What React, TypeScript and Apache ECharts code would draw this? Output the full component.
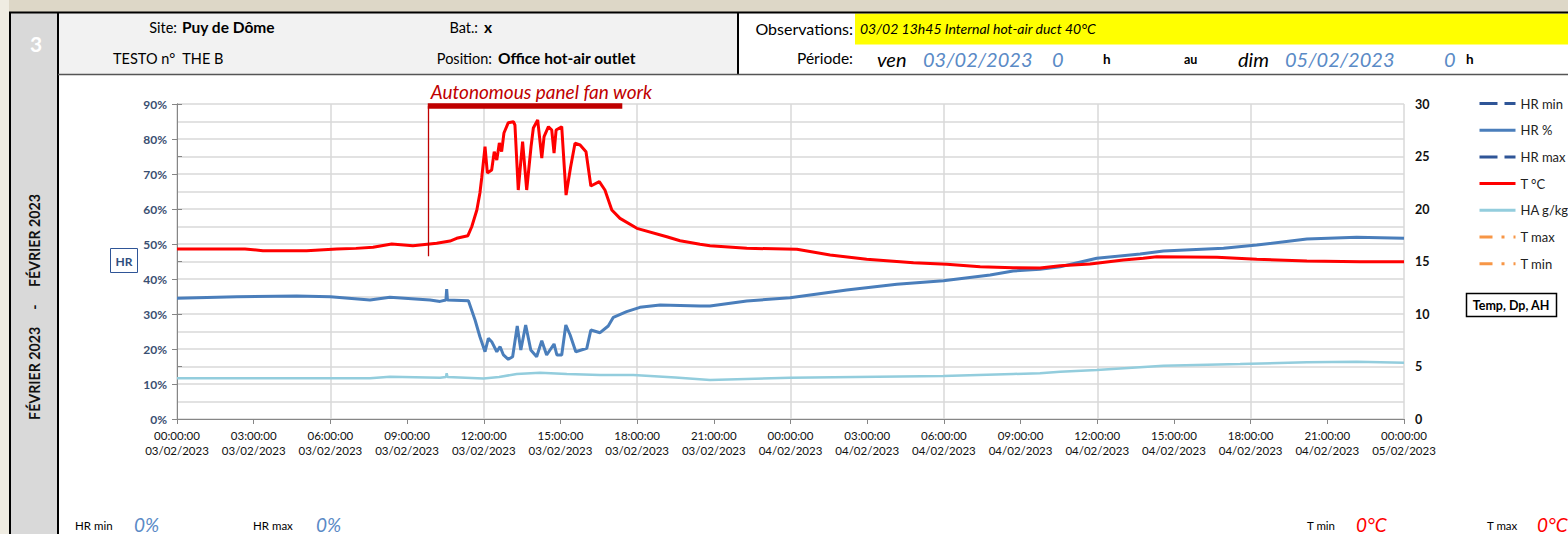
import React, { useEffect, useRef } from 'react';
import * as echarts from 'echarts';

// ---- data (hours since 03/02/2023 00:00) ----
const tHours = [0, 1.3, 2.66, 3.36, 5.07, 6.25, 7.0, 7.67, 8.4, 9.23, 10.16, 10.68, 10.94, 11.38, 11.53, 11.73, 11.85, 11.92, 12.05, 12.14, 12.31, 12.41, 12.51, 12.61, 12.7, 12.79, 12.96, 13.16, 13.22, 13.35, 13.52, 13.68, 13.85, 13.94, 14.11, 14.27, 14.36, 14.53, 14.66, 14.75, 14.83, 15.05, 15.22, 15.4, 15.57, 15.77, 16.0, 16.19, 16.52, 16.74, 17.01, 17.33, 17.99, 19.16, 19.68, 20.46, 20.85, 22.29, 24.25, 25.55, 26.98, 28.81, 30.11, 31.42, 32.71, 33.76, 34.55, 35.72, 37.02, 37.8, 38.33, 40.68, 42.24, 44.2, 46.28, 48];
const tValues = [16.19, 16.2, 16.19, 16.03, 16.03, 16.19, 16.25, 16.35, 16.67, 16.5, 16.73, 16.95, 17.21, 17.46, 18.31, 19.9, 21.52, 22.95, 25.93, 23.43, 23.71, 25.46, 24.67, 26.29, 25.46, 27.24, 28.22, 28.31, 28.0, 21.81, 26.41, 21.81, 25.93, 27.71, 28.48, 24.86, 26.89, 27.84, 27.52, 25.33, 27.52, 27.84, 21.33, 24.03, 26.26, 26.1, 25.46, 22.19, 22.6, 21.81, 19.9, 19.11, 18.16, 17.36, 16.98, 16.64, 16.5, 16.26, 16.16, 15.62, 15.21, 14.89, 14.73, 14.5, 14.41, 14.38, 14.6, 14.76, 15.14, 15.3, 15.46, 15.4, 15.21, 15.05, 14.98, 14.98];

const hrHours = [0, 2.34, 4.68, 6.0, 7.55, 8.33, 9.9, 10.29, 10.52, 10.55, 10.58, 11.4, 11.66, 11.85, 12.05, 12.18, 12.31, 12.51, 12.64, 12.77, 12.96, 13.13, 13.31, 13.45, 13.64, 13.84, 14.07, 14.27, 14.46, 14.75, 14.86, 15.05, 15.21, 15.38, 15.6, 16.03, 16.19, 16.55, 16.87, 17.07, 17.59, 18.11, 18.9, 20.46, 20.85, 22.29, 23.98, 26.2, 28.16, 29.98, 31.81, 32.71, 33.76, 34.55, 35.98, 37.68, 38.59, 40.94, 42.24, 44.2, 46.15, 48];
const hrValues = [34.49, 34.94, 35.14, 34.9, 34.0, 34.77, 34.0, 33.6, 34.0, 37.14, 34.0, 33.8, 28.29, 23.51, 19.23, 23.06, 22.09, 19.23, 20.66, 18.29, 17.06, 17.8, 26.57, 19.71, 26.86, 19.71, 17.8, 22.37, 18.29, 21.43, 18.29, 18.29, 26.86, 24.0, 19.23, 20.2, 25.43, 24.66, 26.57, 29.06, 30.66, 31.91, 32.57, 32.29, 32.29, 33.71, 34.66, 36.86, 38.49, 39.51, 41.14, 42.29, 42.77, 43.51, 45.91, 47.14, 48.0, 48.77, 49.71, 51.43, 51.91, 51.63];

const haHours = [0, 7.55, 8.33, 10.29, 10.52, 10.55, 10.58, 11.99, 12.6, 13.29, 14.2, 15.25, 16.55, 17.85, 19.5, 20.85, 23.98, 29.98, 32.71, 33.76, 34.55, 35.98, 38.59, 41.59, 44.2, 46.15, 48];
const haValues = [3.87, 3.87, 4.03, 3.93, 4.0, 4.35, 4.0, 3.85, 4.0, 4.29, 4.4, 4.29, 4.19, 4.19, 3.95, 3.71, 3.93, 4.1, 4.29, 4.35, 4.5, 4.67, 5.08, 5.24, 5.4, 5.46, 5.36];

const legendNames = ['HR min', 'HR %', 'HR max', 'T °C', 'HA g/kg', 'T max', 'T min'];

// annotation (hours / °C)
const fanStart = 9.81;
const fanEnd = 17.42;
const fanBarLevel = 29.8;
const fanLineBottom = 15.5;
const fanLabel = 'Autonomous panel fan work';

const FONT = 'Lato';

const pad = (n: number) => (n < 10 ? '0' + n : '' + n);
const zip = (xs: number[], ys: number[]) => xs.map((x, i) => [x, ys[i]]);

export default function App() {
  const ref = useRef<HTMLDivElement>(null);
  useEffect(() => {
    if (!ref.current) return;
    const chart = echarts.init(ref.current, undefined, { renderer: 'svg' });

    const txt = (x: number, y: number, text: string, o: any = {}) => ({
      type: 'text',
      x,
      y,
      style: {
        text,
        fill: o.fill || '#000',
        font: `${o.italic ? 'italic ' : ''}${o.bold ? 'bold ' : ''}${o.size || 13}px ${FONT}`,
        textAlign: o.align || 'left',
        textVerticalAlign: 'middle',
      },
      rotation: o.rotation || 0,
    });

    const graphic: any[] = [
      { type: 'rect', shape: { x: 0, y: 0, width: 1568, height: 12 }, style: { fill: '#ddd7c7' } },
      { type: 'rect', shape: { x: 0, y: 0, width: 9, height: 534 }, style: { fill: '#efece2' } },
      { type: 'rect', shape: { x: 11, y: 13, width: 47, height: 521 }, style: { fill: '#d9d9d9' } },
      { type: 'rect', shape: { x: 59, y: 13, width: 679, height: 61 }, style: { fill: '#f2f2f2' } },
      { type: 'rect', shape: { x: 855, y: 13.5, width: 713, height: 31 }, style: { fill: '#ffff00' } },
      { type: 'line', shape: { x1: 9, y1: 12.5, x2: 1568, y2: 12.5 }, style: { stroke: '#000', lineWidth: 2 } },
      { type: 'line', shape: { x1: 10, y1: 12, x2: 10, y2: 534 }, style: { stroke: '#000', lineWidth: 2 } },
      { type: 'line', shape: { x1: 58, y1: 12, x2: 58, y2: 534 }, style: { stroke: '#000', lineWidth: 2 } },
      { type: 'line', shape: { x1: 738, y1: 12, x2: 738, y2: 74 }, style: { stroke: '#000', lineWidth: 2 } },
      { type: 'line', shape: { x1: 58, y1: 74.5, x2: 1568, y2: 74.5 }, style: { stroke: '#555', lineWidth: 1.5 } },
      txt(36, 43, '3', { bold: true, size: 21, fill: '#fff', align: 'center' }),
      txt(34, 307, 'FÉVRIER 2023     -     FÉVRIER 2023', { bold: true, size: 14.2, align: 'center', rotation: Math.PI / 2, fill: '#111' }),
      txt(177, 27, 'Site:', { size: 14.5, align: 'right' }),
      txt(182, 27, 'Puy de Dôme', { bold: true, size: 15.5 }),
      txt(478, 27, 'Bat.:', { size: 14.5, align: 'right' }),
      txt(484, 27, 'x', { bold: true, size: 15.5 }),
      txt(113, 58, 'TESTO n°  THE B', { size: 14.5 }),
      txt(492, 58, 'Position:', { size: 14.5, align: 'right' }),
      txt(498, 58, 'Office hot-air outlet', { bold: true, size: 15.5 }),
      txt(853, 28, 'Observations:', { size: 16, align: 'right' }),
      txt(860, 28, '03/02 13h45 Internal hot-air duct 40°C', { italic: true, size: 14 }),
      txt(853, 58, 'Période:', { size: 15.5, align: 'right' }),
      txt(877, 59, 'ven', { italic: true, size: 20 }),
      txt(923, 59, '03/02/2023', { italic: true, size: 20, fill: '#5a8ac6' }),
      txt(1052, 59, '0', { italic: true, size: 20, fill: '#5a8ac6' }),
      txt(1103, 59, 'h', { bold: true, size: 13.5 }),
      txt(1184, 59, 'au', { bold: true, size: 12.5 }),
      txt(1238, 59, 'dim', { italic: true, size: 20 }),
      txt(1285, 59, '05/02/2023', { italic: true, size: 20, fill: '#5a8ac6' }),
      txt(1444, 59, '0', { italic: true, size: 20, fill: '#5a8ac6' }),
      txt(1466, 59, 'h', { bold: true, size: 13.5 }),
      { type: 'rect', shape: { x: 110.5, y: 248.5, width: 27, height: 24 }, style: { fill: '#fff', stroke: '#2f5597', lineWidth: 1 } },
      txt(124, 261, 'HR', { bold: true, size: 12, align: 'center', fill: '#2f4e7e' }),
      { type: 'rect', shape: { x: 1466.5, y: 293.5, width: 90, height: 23 }, style: { fill: '#fff', stroke: '#000', lineWidth: 1.5 } },
      txt(1511, 305.5, 'Temp, Dp, AH', { bold: true, size: 12.5, align: 'center' }),
      txt(75, 525, 'HR min', { size: 11.5 }),
      txt(134, 524, '0%', { italic: true, size: 19, fill: '#5a8ac6' }),
      txt(253, 525, 'HR max', { size: 11.5 }),
      txt(316, 524, '0%', { italic: true, size: 19, fill: '#5a8ac6' }),
      txt(1307, 525, 'T min', { size: 11.5 }),
      txt(1356, 524, '0°C', { italic: true, size: 19, fill: '#ff0000' }),
      txt(1487, 525, 'T max', { size: 11.5 }),
      txt(1537, 524, '0°C', { italic: true, size: 19, fill: '#ff0000' }),
    ];

    const emptyLine = (name: string, color: string, type: any) => ({
      name,
      type: 'line',
      data: [],
      symbol: 'none',
      lineStyle: { color, width: 2.5, type },
      itemStyle: { color },
    });

    chart.setOption({
      animation: false,
      backgroundColor: '#ffffff',
      textStyle: { fontFamily: FONT },
      graphic,
      legend: {
        data: legendNames,
        orient: 'vertical',
        left: 1478,
        top: 97,
        padding: 0,
        itemWidth: 36,
        itemHeight: 12,
        itemGap: 13.7,
        selectedMode: false,
        itemStyle: { opacity: 0 },
        lineStyle: { width: 3 },
        textStyle: { fontFamily: FONT, fontSize: 13, color: '#222' },
      },
      grid: { left: 177, right: 164, top: 104, bottom: 115, containLabel: false },
      xAxis: [
        {
          type: 'value',
          min: 0,
          max: 48,
          interval: 3,
          axisLine: { show: true, lineStyle: { color: '#868686', width: 1 } },
          axisTick: { show: true, length: 5, lineStyle: { color: '#868686' } },
          splitLine: { show: false },
          axisLabel: {
            margin: 9,
            fontFamily: FONT,
            fontSize: 11.5,
            lineHeight: 15,
            color: '#111',
            showMinLabel: true,
            showMaxLabel: true,
            hideOverlap: false,
            formatter: (v: number) => `${pad(v % 24)}:00:00\n${pad(3 + Math.floor(v / 24))}/02/2023`,
          },
        },
        {
          type: 'value',
          min: 0,
          max: 48,
          interval: 6,
          position: 'bottom',
          axisLine: { show: false },
          axisTick: { show: false },
          axisLabel: { show: false },
          splitLine: { show: true, lineStyle: { color: '#d9d9d9', width: 1.5 } },
        },
      ],
      yAxis: [
        {
          type: 'value',
          min: 0,
          max: 90,
          interval: 10,
          axisLine: { show: true, lineStyle: { color: '#868686', width: 1 } },
          axisTick: { show: true, length: 5, lineStyle: { color: '#868686' } },
          minorTick: { show: false, splitNumber: 2 },
          splitLine: { show: true, lineStyle: { color: '#d9d9d9', width: 1.5 } },
          minorSplitLine: { show: true, lineStyle: { color: '#d9d9d9', width: 1.5 } },
          axisLabel: {
            margin: 10,
            fontFamily: FONT,
            fontSize: 12,
            fontWeight: 'bold',
            color: '#3a4f72',
            formatter: (v: number) => `${v}%`,
          },
        },
        {
          type: 'value',
          min: 0,
          max: 30,
          interval: 5,
          position: 'right',
          axisLine: { show: true, lineStyle: { color: '#868686', width: 1 } },
          axisTick: { show: true, length: 5, lineStyle: { color: '#868686' } },
          splitLine: { show: false },
          axisLabel: {
            margin: 11,
            fontFamily: FONT,
            fontSize: 12.5,
            fontWeight: 'bold',
            color: '#111',
          },
        },
      ],
      series: [
        emptyLine('HR min', '#2f5597', [18, 7]),
        {
          name: 'HR %',
          type: 'line',
          data: zip(hrHours, hrValues),
          yAxisIndex: 0,
          symbol: 'none',
          lineStyle: { color: '#4a7ebb', width: 3 },
          itemStyle: { color: '#4a7ebb' },
          z: 3,
        },
        emptyLine('HR max', '#2f5597', [18, 7]),
        {
          name: 'T °C',
          type: 'line',
          data: zip(tHours, tValues),
          yAxisIndex: 1,
          symbol: 'none',
          lineStyle: { color: '#ff0000', width: 3 },
          itemStyle: { color: '#ff0000' },
          z: 4,
          markLine: {
            silent: true,
            symbol: 'none',
            animation: false,
            data: [
              [
                {
                  coord: [fanStart, fanBarLevel],
                  lineStyle: { color: '#c00000', width: 5.5, type: 'solid' },
                  label: {
                    show: true,
                    formatter: fanLabel,
                    position: 'insideStartTop',
                    distance: [3, 5],
                    color: '#c00000',
                    fontFamily: FONT,
                    fontStyle: 'italic',
                    fontSize: 19,
                  },
                },
                { coord: [fanEnd, fanBarLevel] },
              ],
              [
                {
                  coord: [fanStart, fanBarLevel],
                  lineStyle: { color: '#c00000', width: 1.3, type: 'solid' },
                  label: { show: false },
                },
                { coord: [fanStart, fanLineBottom] },
              ],
            ],
          },
        },
        {
          name: 'HA g/kg',
          type: 'line',
          data: zip(haHours, haValues),
          yAxisIndex: 1,
          symbol: 'none',
          lineStyle: { color: '#93cddd', width: 2.5 },
          itemStyle: { color: '#93cddd' },
          z: 2,
        },
        emptyLine('T max', '#f79646', [13, 9, 3, 9]),
        emptyLine('T min', '#f79646', [13, 9, 3, 9]),
      ],
    });

    return () => chart.dispose();
  }, []);

  return <div ref={ref} style={{ position: 'absolute', left: 0, top: 0, width: 1568, height: 534 }} />;
}
